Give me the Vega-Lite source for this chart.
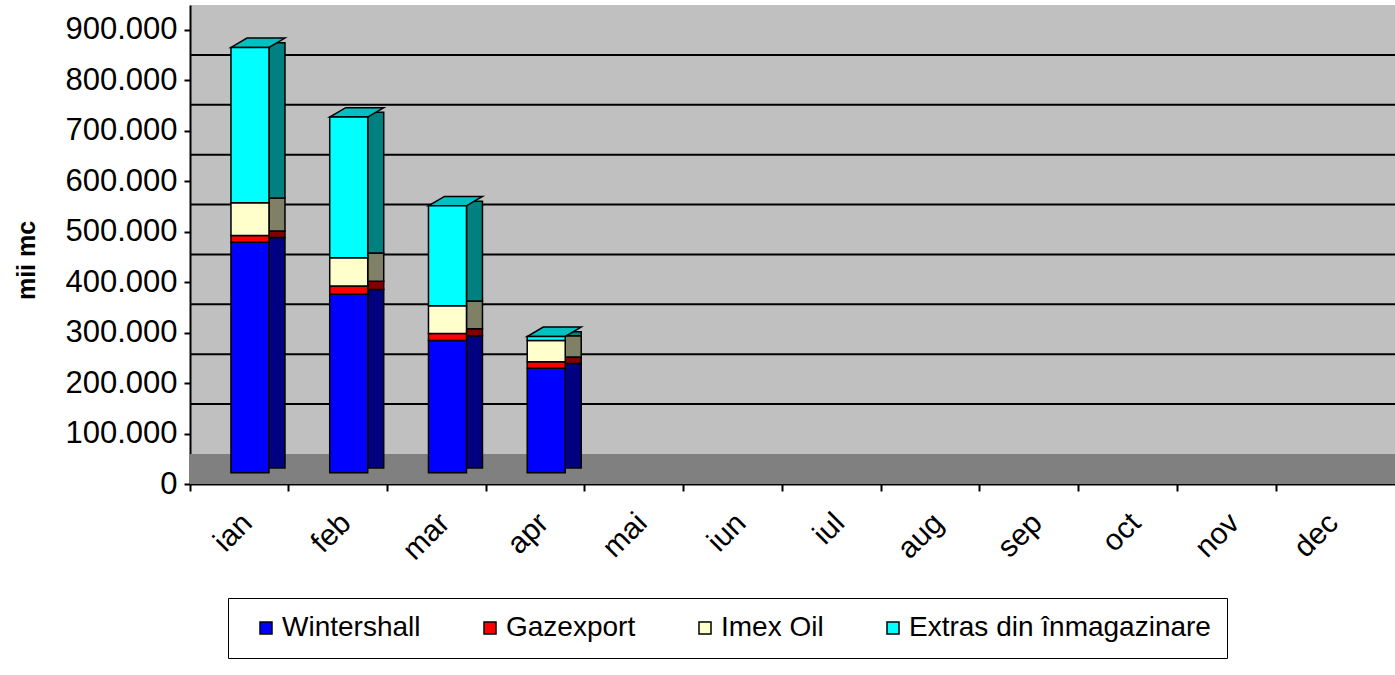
{
  "$schema": "https://vega.github.io/schema/vega-lite/v6.json",
  "width": 1205,
  "height": 479,
  "autosize": {"type": "none"},
  "padding": {"left": 190, "top": 5, "right": 0, "bottom": 191},
  "background": "#FFFFFF",
  "config": {
    "view": {"fill": "#C0C0C0", "stroke": null},
    "font": "Liberation Sans",
    "axisX": {
      "domainColor": "#000000", "domainWidth": 2,
      "tickColor": "#000000", "tickWidth": 2, "tickSize": 7,
      "labelAngle": -45, "labelAlign": "right", "labelBaseline": "middle",
      "labelFontSize": 30, "labelColor": "#000000", "labelFont": "Liberation Sans",
      "labelPadding": 27, "labelOffset": 8, "bandPosition": 0,
      "labelOverlap": false, "labelBound": false, "labelFlush": false, "grid": false
    },
    "axisY": {
      "domainColor": "#000000", "domainWidth": 2,
      "tickColor": "#000000", "tickWidth": 2, "tickSize": 6,
      "labelFontSize": 31, "labelColor": "#000000", "labelFont": "Liberation Sans",
      "labelPadding": 7, "labelOverlap": false, "grid": false,
      "titleFontSize": 25, "titleFontWeight": "bold", "titleColor": "#000000",
      "titleFont": "Liberation Sans", "titlePadding": 25, "titleY": 255
    },
    "legend": {
      "orient": "none", "legendX": 38, "legendY": 593,
      "direction": "horizontal", "columns": 4,
      "strokeColor": "#000000", "padding": 16, "columnPadding": 47,
      "symbolType": "square", "symbolSize": 144, "symbolStrokeColor": "#000000",
      "symbolStrokeWidth": 1.5, "labelFontSize": 28, "labelFont": "Liberation Sans",
      "labelColor": "#000000", "labelOffset": 2, "labelLimit": 400, "symbolOffset": 8
    }
  },
  "datasets": {
    "gas": [
      {"luna": "ian", "sursa": "Wintershall", "valoare": 457000},
      {"luna": "ian", "sursa": "Gazexport", "valoare": 13000},
      {"luna": "ian", "sursa": "Imex Oil", "valoare": 65000},
      {"luna": "ian", "sursa": "Extras din înmagazinare", "valoare": 308000},
      {"luna": "feb", "sursa": "Wintershall", "valoare": 354000},
      {"luna": "feb", "sursa": "Gazexport", "valoare": 16000},
      {"luna": "feb", "sursa": "Imex Oil", "valoare": 56000},
      {"luna": "feb", "sursa": "Extras din înmagazinare", "valoare": 279000},
      {"luna": "mar", "sursa": "Wintershall", "valoare": 262000},
      {"luna": "mar", "sursa": "Gazexport", "valoare": 14000},
      {"luna": "mar", "sursa": "Imex Oil", "valoare": 55000},
      {"luna": "mar", "sursa": "Extras din înmagazinare", "valoare": 198000},
      {"luna": "apr", "sursa": "Wintershall", "valoare": 207000},
      {"luna": "apr", "sursa": "Gazexport", "valoare": 13000},
      {"luna": "apr", "sursa": "Imex Oil", "valoare": 42000},
      {"luna": "apr", "sursa": "Extras din înmagazinare", "valoare": 8000}
    ],
    "serii": [
      {"sursa": "Wintershall", "rang": 1},
      {"sursa": "Gazexport", "rang": 2},
      {"sursa": "Imex Oil", "rang": 3},
      {"sursa": "Extras din înmagazinare", "rang": 4}
    ],
    "grid": [
      {"v": 100000}, {"v": 200000}, {"v": 300000}, {"v": 400000},
      {"v": 500000}, {"v": 600000}, {"v": 700000}, {"v": 800000}
    ]
  },
  "resolve": {"scale": {"y": "independent"}},
  "layer": [
    {
      "data": {"name": "grid"},
      "mark": {"type": "rule", "color": "#000000", "strokeWidth": 2},
      "encoding": {
        "y": {"field": "v", "type": "quantitative", "scale": {"domain": [-60134, 900000], "nice": false, "zero": false}, "axis": null}
      }
    },
    {
      "resolve": {"scale": {"color": "independent"}},
      "layer": [
        {
          "data": {"values": [{}]},
          "mark": {"type": "rect", "color": "#808080"},
          "encoding": {
            "y": {"datum": 0, "type": "quantitative", "scale": {"domain": [0, 949559], "nice": false}, "title": "mii mc",
                  "axis": {"values": [0, 100000, 200000, 300000, 400000, 500000, 600000, 700000, 800000, 900000], "labelExpr": "replace(format(datum.value, ','), ',', '.')"}},
            "y2": {"datum": 59471}
          }
        },
        {
          "data": {"name": "gas"},
          "transform": [{"lookup": "sursa", "from": {"data": {"name": "serii"}, "key": "sursa", "fields": ["rang"]}}],
          "mark": {"type": "bar", "width": 16, "xOffset": 37.6, "yOffset": -16, "stroke": "#000000", "strokeWidth": 1.5},
          "encoding": {
            "x": {"field": "luna", "type": "nominal", "title": null,
                  "scale": {"domain": ["ian", "feb", "mar", "apr", "mai", "iun", "iul", "aug", "sep", "oct", "nov", "dec"], "paddingInner": 0, "paddingOuter": 0.1013, "align": 0}},
            "y": {"field": "valoare", "type": "quantitative", "stack": "zero", "scale": {"domain": [0, 949559], "nice": false}, "title": "mii mc",
                  "axis": {"values": [0, 100000, 200000, 300000, 400000, 500000, 600000, 700000, 800000, 900000], "labelExpr": "replace(format(datum.value, ','), ',', '.')"}},
            "order": {"field": "rang", "type": "quantitative", "sort": "ascending"},
            "color": {"field": "sursa", "type": "nominal",
                      "scale": {"domain": ["Wintershall", "Gazexport", "Imex Oil", "Extras din înmagazinare"], "range": ["#000080", "#800000", "#808066", "#008080"]},
                      "legend": null}
          }
        },
        {
          "data": {"name": "gas"},
          "transform": [{"aggregate": [{"op": "sum", "field": "valoare", "as": "total"}], "groupby": ["luna"]}],
          "mark": {"type": "point", "shape": "M-1,0.174L0.407,0.174L1,-0.174L-0.407,-0.174Z", "size": 2916, "filled": true, "fill": "#00C0C0", "stroke": "#000000", "strokeWidth": 1.5, "opacity": 1, "xOffset": 18.6, "yOffset": -16},
          "encoding": {
            "x": {"field": "luna", "type": "nominal", "title": null,
                  "scale": {"domain": ["ian", "feb", "mar", "apr", "mai", "iun", "iul", "aug", "sep", "oct", "nov", "dec"], "paddingInner": 0, "paddingOuter": 0.1013, "align": 0}},
            "y": {"field": "total", "type": "quantitative", "scale": {"domain": [0, 949559], "nice": false}, "title": "mii mc",
                  "axis": {"values": [0, 100000, 200000, 300000, 400000, 500000, 600000, 700000, 800000, 900000], "labelExpr": "replace(format(datum.value, ','), ',', '.')"}}
          }
        },
        {
          "data": {"name": "gas"},
          "transform": [{"lookup": "sursa", "from": {"data": {"name": "serii"}, "key": "sursa", "fields": ["rang"]}}],
          "mark": {"type": "bar", "width": 38, "xOffset": 10.6, "yOffset": -11.3, "stroke": "#000000", "strokeWidth": 1.5},
          "encoding": {
            "x": {"field": "luna", "type": "nominal", "title": null,
                  "scale": {"domain": ["ian", "feb", "mar", "apr", "mai", "iun", "iul", "aug", "sep", "oct", "nov", "dec"], "paddingInner": 0, "paddingOuter": 0.1013, "align": 0}},
            "y": {"field": "valoare", "type": "quantitative", "stack": "zero", "scale": {"domain": [0, 949559], "nice": false}, "title": "mii mc",
                  "axis": {"values": [0, 100000, 200000, 300000, 400000, 500000, 600000, 700000, 800000, 900000], "labelExpr": "replace(format(datum.value, ','), ',', '.')"}},
            "order": {"field": "rang", "type": "quantitative", "sort": "ascending"},
            "color": {"field": "sursa", "type": "nominal",
                      "scale": {"domain": ["Wintershall", "Gazexport", "Imex Oil", "Extras din înmagazinare"], "range": ["#0000FF", "#FF0000", "#FFFFCC", "#00FFFF"]},
                      "legend": {"title": null}}
          }
        }
      ]
    }
  ]
}
